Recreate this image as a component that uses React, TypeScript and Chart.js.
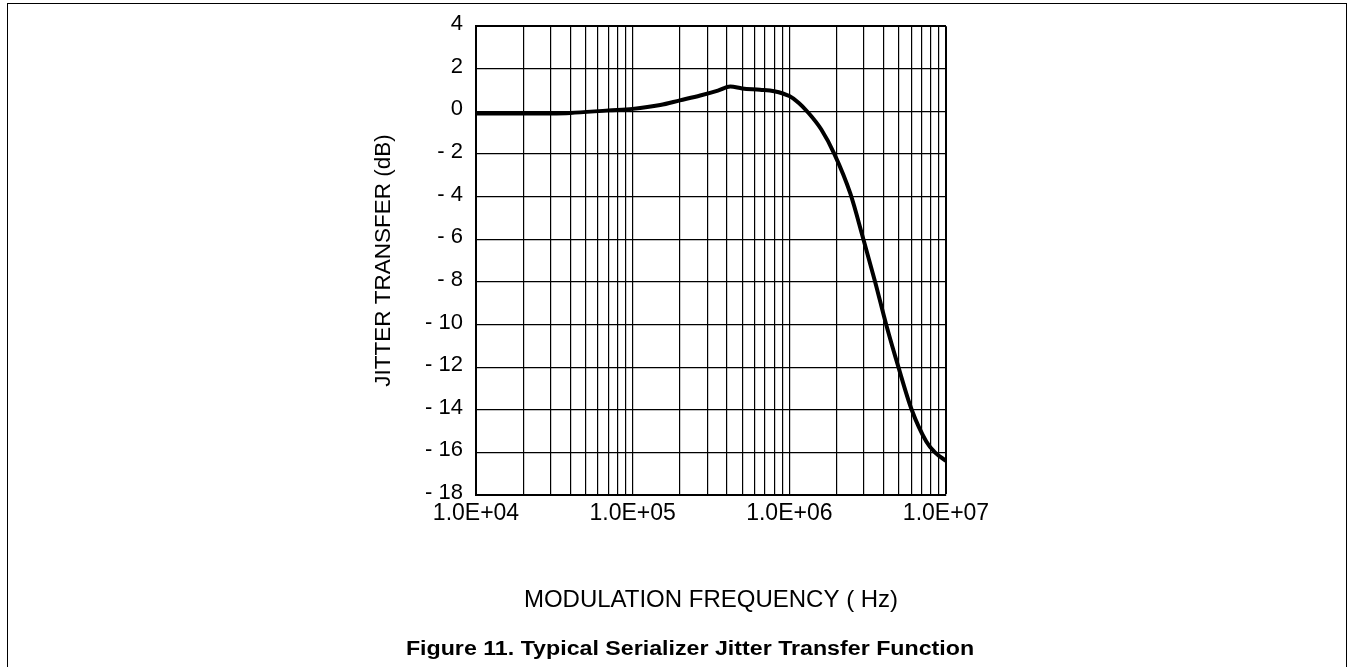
import React, { useEffect, useRef } from "react";
import { Chart, registerables } from "chart.js";

Chart.register(...registerables);

const freqHz = [1e4, 2e4, 4e4, 7e4, 1e5, 1.5e5, 2e5, 2.7e5, 3.5e5, 4.2e5, 5e5, 6.5e5, 8e5, 1e6, 1.15e6, 1.3e6, 1.6e6, 1.94e6, 2.45e6, 2.97e6, 3.53e6, 4.15e6, 4.97e6, 6.04e6, 7.5e6, 8.5e6, 1e7];
const jitterDb = [-0.1, -0.1, -0.07, 0.05, 0.12, 0.3, 0.52, 0.75, 0.98, 1.17, 1.08, 1.02, 0.95, 0.72, 0.4, 0.0, -0.85, -2.0, -3.85, -6.0, -8.0, -10.0, -12.0, -14.0, -15.5, -16.0, -16.4];

const xDecades = [1e4, 1e5, 1e6];
const xSignificands = [1, 2, 3, 4, 5, 6, 7, 8, 9];
const xMaxTick = 1e7;
const yTicks = [4, 2, 0, -2, -4, -6, -8, -10, -12, -14, -16, -18];

const xTitle = "MODULATION FREQUENCY ( Hz)";
const yTitle = "JITTER TRANSFER (dB)";
const caption = "Figure 11. Typical Serializer Jitter Transfer Function";

const FONT = "Arial, 'Liberation Sans', Helvetica, sans-serif";

function fmtExp(v: number): string {
  const e = Math.round(Math.log10(v));
  return "1.0E+" + (e < 10 ? "0" + e : String(e));
}

export default function App() {
  const ref = useRef<HTMLCanvasElement | null>(null);

  useEffect(() => {
    if (!ref.current) return;
    const xTickVals: number[] = [];
    xDecades.forEach((d) => xSignificands.forEach((s) => xTickVals.push(s * d)));
    xTickVals.push(xMaxTick);

    const chart = new Chart(ref.current, {
      type: "line",
      data: {
        datasets: [
          {
            data: freqHz.map((f, i) => ({ x: f, y: jitterDb[i] })),
            borderColor: "#000",
            borderWidth: 4,
            pointRadius: 0,
            fill: false,
            cubicInterpolationMode: "monotone",
          },
        ],
      },
      options: {
        animation: false,
        responsive: false,
        layout: { padding: { left: 370, right: 404, top: 23, bottom: 52 } },
        plugins: { legend: { display: false }, tooltip: { enabled: false } },
        scales: {
          x: {
            type: "logarithmic",
            min: 1e4,
            max: 1e7,
            afterBuildTicks: (scale: any) => {
              scale.ticks = xTickVals.map((v) => ({ value: v }));
            },
            afterFit: (scale: any) => {
              scale.height = 120;
            },
            ticks: {
              autoSkip: false,
              maxRotation: 0,
              padding: 5,
              color: "#000",
              font: { family: FONT, size: 23 },
              callback: (v: any) => {
                const n = Number(v);
                const l = Math.log10(n);
                return Math.abs(l - Math.round(l)) < 1e-9 ? fmtExp(n) : "";
              },
            },
            grid: {
              color: "#000",
              drawTicks: false,
              lineWidth: (ctx: any) => (ctx.tick && ctx.tick.value === xMaxTick ? 2 : 1.2),
            },
            border: { display: true, color: "#000", width: 2 },
            title: {
              display: true,
              text: xTitle,
              color: "#000",
              padding: 0,
              font: { family: FONT, size: 24 },
            },
          },
          y: {
            type: "linear",
            min: -18,
            max: 4,
            afterBuildTicks: (scale: any) => {
              scale.ticks = yTicks.map((v) => ({ value: v }));
            },
            afterFit: (scale: any) => {
              scale.width = 106;
            },
            ticks: {
              autoSkip: false,
              padding: 13,
              labelOffset: -2,
              color: "#000",
              font: { family: FONT, size: 22 },
              callback: (v: any) => {
                const n = Number(v);
                return n < 0 ? "- " + Math.abs(n) : String(n);
              },
            },
            grid: {
              color: "#000",
              drawTicks: false,
              lineWidth: (ctx: any) => (ctx.tick && ctx.tick.value === 4 ? 2 : 1.2),
            },
            border: { display: true, color: "#000", width: 2 },
            title: {
              display: true,
              text: yTitle,
              color: "#000",
              padding: 0,
              font: { family: FONT, size: 22.5 },
            },
          },
        },
      },
    });
    return () => chart.destroy();
  }, []);

  return (
    <div style={{ position: "absolute", left: 0, top: 0, width: 1350, height: 667, overflow: "hidden", background: "#fff" }}>
      <div
        style={{
          position: "absolute",
          left: 7,
          top: 3,
          width: 1340,
          height: 720,
          border: "1.5px solid #000",
          boxSizing: "border-box",
        }}
      />
      <canvas ref={ref} width={1350} height={667} style={{ position: "absolute", left: 0, top: 0 }} />
      <div
        style={{
          position: "absolute",
          left: 0,
          width: 1380,
          top: 637,
          textAlign: "center",
          fontFamily: FONT,
          fontWeight: "bold",
          fontSize: 20,
          lineHeight: "22px",
          color: "#000",
          transform: "scaleX(1.16)",
          transformOrigin: "690px 0",
        }}
      >
        {caption}
      </div>
    </div>
  );
}
